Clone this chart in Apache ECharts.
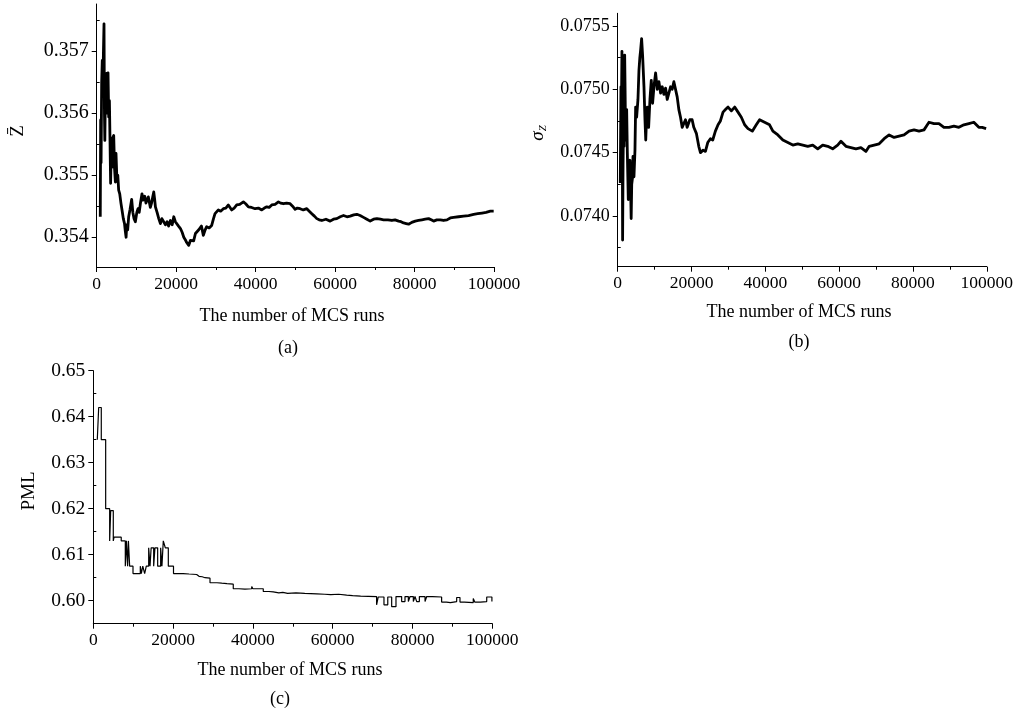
<!DOCTYPE html>
<html>
<head>
<meta charset="utf-8">
<script src="https://cdn.jsdelivr.net/npm/echarts@6/dist/echarts.min.js"></script>
<style>
html,body{margin:0;padding:0;background:#fff;}
#chart{width:1016px;height:709px;}
</style>
</head>
<body>
<div id="chart"></div>
<script>
// ---------- DATA ----------
// Panel (a): mean of Z vs number of MCS runs
const meanZ = [
[900,0.35433],[1000,0.35589],[1100,0.35520],[1250,0.35650],[1400,0.35685],[1550,0.35640],[1700,0.35700],[1840,0.35744],[1950,0.35600],[2050,0.35556],[2200,0.35640],[2350,0.35610],[2500,0.35664],[2650,0.35600],[2850,0.35665],[3020,0.35594],[3200,0.35620],[3350,0.35556],[3500,0.35487],[3650,0.35540],[3860,0.35513],[4000,0.35560],[4280,0.35564],[4500,0.35510],[4700,0.35489],[4860,0.35535],[5100,0.35490],[5300,0.35500],[5530,0.35476],[5800,0.35470],[6100,0.35455],[6370,0.35444],[6700,0.35430],[7000,0.35422],[7200,0.35410],[7400,0.35400],[7550,0.35420],[7800,0.35412],[8050,0.35433],[8400,0.35445],[8800,0.35461],[9100,0.35440],[9400,0.35430],[9730,0.35425],[10100,0.35440],[10400,0.35446],[10700,0.35440],[10990,0.35454],[11400,0.35470],[11700,0.35460],[12100,0.35466],[12400,0.35455],[12700,0.35454],[13000,0.35465],[13270,0.35462],[13500,0.35448],[13770,0.35454],[14100,0.35465],[14360,0.35473],[14600,0.35460],[14780,0.35449],[15200,0.35440],[15620,0.35430],[16040,0.35422],[16400,0.35430],[16880,0.35430],[17300,0.35420],[17720,0.35425],[18100,0.35418],[18560,0.35427],[19000,0.35420],[19400,0.35433],[19800,0.35425],[20240,0.35422],[20600,0.35418],[21080,0.35414],[21500,0.35408],[21920,0.35400],[22300,0.35396],[22590,0.35392],[22900,0.35390],[23170,0.35387],[23600,0.35395],[24000,0.35398],[24400,0.35394],[24850,0.35406],[25300,0.35408],[25690,0.35412],[26000,0.35411],[26360,0.35418],[26840,0.35403],[27300,0.35412],[27680,0.35417],[28300,0.35415],[28940,0.35419],[29400,0.35430],[29780,0.35438],[30620,0.35444],[31200,0.35442],[31880,0.35446],[32500,0.35447],[33140,0.35452],[33980,0.35444],[34600,0.35447],[35240,0.35452],[36000,0.35453],[36920,0.35457],[37500,0.35454],[38180,0.35449],[39000,0.35448],[39860,0.35446],[40700,0.35447],[41540,0.35444],[42200,0.35447],[42800,0.35449],[43400,0.35448],[44060,0.35452],[44900,0.35453],[45740,0.35457],[46300,0.35455],[47000,0.35454],[47800,0.35455],[48680,0.35454],[49300,0.35450],[49940,0.35445],[50500,0.35447],[51200,0.35446],[52000,0.35444],[52880,0.35446],[53500,0.35442],[54140,0.35438],[54800,0.35434],[55400,0.35430],[56000,0.35428],[56660,0.35427],[57700,0.35429],[58760,0.35426],[59600,0.35429],[60440,0.35430],[61300,0.35433],[62120,0.35435],[63000,0.35433],[63800,0.35434],[64700,0.35436],[65480,0.35437],[66300,0.35435],[67160,0.35432],[68000,0.35429],[68840,0.35426],[69700,0.35429],[70520,0.35430],[71400,0.35429],[72200,0.35428],[73300,0.35428],[74300,0.35427],[75100,0.35428],[75980,0.35426],[76600,0.35425],[77240,0.35423],[77900,0.35422],[78500,0.35421],[79300,0.35424],[80180,0.35426],[81000,0.35427],[81860,0.35428],[82700,0.35429],[83540,0.35430],[84200,0.35428],[84800,0.35426],[85600,0.35428],[86480,0.35428],[87300,0.35427],[88160,0.35428],[89000,0.35431],[89840,0.35432],[91100,0.35433],[92360,0.35434],[93600,0.35435],[94880,0.35437],[95900,0.35438],[96980,0.35439],[98000,0.35440],[99080,0.35442],[99920,0.35442]
];

// Panel (b): standard deviation of Z
const sigmaZ = [
[700,0.07426],[880,0.07502],[1000,0.07480],[1150,0.07530],[1250,0.07460],[1330,0.07381],[1450,0.07440],[1600,0.07480],[1750,0.07455],[1890,0.07527],[2000,0.07500],[2150,0.07460],[2300,0.07470],[2430,0.07484],[2610,0.07450],[2870,0.07413],[3050,0.07440],[3330,0.07444],[3510,0.07420],[3650,0.07398],[3800,0.07425],[4000,0.07430],[4140,0.07447],[4410,0.07431],[4680,0.07452],[4860,0.07486],[5130,0.07478],[5490,0.07492],[5760,0.07515],[6000,0.07525],[6210,0.07531],[6480,0.07540],[6760,0.07526],[7120,0.07502],[7390,0.07476],[7600,0.07460],[7750,0.07472],[8020,0.07486],[8380,0.07470],[8740,0.07492],[9100,0.07507],[9460,0.07489],[9820,0.07502],[10270,0.07513],[10720,0.07500],[11170,0.07506],[11620,0.07497],[12070,0.07502],[12520,0.07496],[12970,0.07501],[13420,0.07492],[13870,0.07497],[14320,0.07502],[14770,0.07500],[15220,0.07506],[15670,0.07507],[16120,0.07494],[16570,0.07484],[17020,0.07478],[17470,0.07470],[17920,0.07473],[18370,0.07476],[18820,0.07470],[19540,0.07476],[20170,0.07476],[20620,0.07470],[21340,0.07465],[21970,0.07455],[22420,0.07450],[23140,0.07452],[23770,0.07451],[24400,0.07458],[25120,0.07461],[25750,0.07460],[26470,0.07467],[27190,0.07472],[27820,0.07475],[28540,0.07482],[29200,0.07484],[29900,0.07486],[30800,0.07483],[31700,0.07486],[32600,0.07482],[33500,0.07478],[34400,0.07472],[35300,0.07469],[36470,0.07467],[37550,0.07472],[38450,0.07476],[39800,0.07474],[41150,0.07472],[42050,0.07467],[43400,0.07464],[44750,0.07460],[46100,0.07458],[47450,0.07456],[48800,0.07457],[50150,0.07456],[51500,0.07455],[52850,0.07456],[54200,0.07453],[55550,0.07456],[56900,0.07455],[58250,0.07453],[59600,0.07456],[60500,0.07459],[61850,0.07455],[63200,0.07454],[64550,0.07453],[65900,0.07454],[67250,0.07451],[68150,0.07455],[69500,0.07456],[70850,0.07457],[72200,0.07461],[73550,0.07464],[74900,0.07462],[76250,0.07463],[77600,0.07464],[78950,0.07467],[80300,0.07468],[81650,0.07467],[83000,0.07468],[83900,0.07472],[84350,0.07474],[85700,0.07473],[87050,0.07473],[88400,0.07470],[89750,0.07470],[91100,0.07471],[92450,0.07470],[93800,0.07472],[95150,0.07473],[96500,0.07474],[97850,0.07470],[98750,0.07470],[99830,0.07469]
];

// Panel (c): PML (step curve; each value holds until the next point)
const pml = [
[1000,0.635],[1350,0.642],[2000,0.635],[3100,0.620],[4100,0.613],[4360,0.6196],[5010,0.613],[5200,0.6138],[7000,0.613],[8020,0.6075],[8300,0.613],[8600,0.6075],[8800,0.613],[9110,0.6075],[9950,0.6059],[11780,0.6075],[12030,0.6059],[12400,0.6075],[12870,0.6059],[13280,0.6075],[13880,0.6115],[14210,0.6075],[14500,0.6115],[15130,0.6075],[15450,0.6115],[16130,0.6075],[16880,0.6115],[17200,0.6075],[17540,0.613],[17880,0.6120],[18050,0.6115],[18800,0.6075],[20100,0.6059],[22500,0.6058],[24000,0.6057],[25900,0.6053],[26500,0.6052],[27300,0.6050],[28000,0.6049],[29250,0.6039],[31000,0.6038],[32200,0.6034],[32500,0.6037],[33500,0.6036],[35080,0.6026],[36500,0.6025],[38000,0.6026],[39700,0.6031],[40000,0.6026],[42600,0.6020],[44000,0.6019],[45100,0.6017],[46500,0.6018],[47500,0.6016],[48700,0.6017],[50800,0.6019],[51300,0.6016],[53000,0.6015],[56000,0.6014],[58000,0.6013],[59500,0.6014],[61500,0.6012],[63500,0.6011],[65000,0.6010],[67000,0.6009],[71000,0.5991],[71400,0.6008],[72850,0.5991],[73800,0.6008],[74780,0.5987],[75860,0.6009],[77280,0.5998],[78120,0.6009],[78960,0.5998],[79380,0.6009],[80210,0.5998],[80630,0.6009],[81050,0.5998],[81720,0.6009],[83140,0.5998],[83560,0.6009],[85000,0.6008],[87300,0.5997],[88500,0.5996],[89500,0.5998],[91070,0.6007],[91900,0.5997],[93000,0.5996],[95230,0.6005],[95600,0.5997],[97000,0.5998],[98600,0.6008],[99900,0.5998],[100000,0.5998]
];

// Tick labels
const xTicks = [0, 20000, 40000, 60000, 80000, 100000];
const yTicksA = [0.354, 0.355, 0.356, 0.357];
const yMinorA = [0.3545, 0.3555, 0.3565, 0.3575];
const yTicksB = [0.0740, 0.0745, 0.0750, 0.0755];
const yMinorB = [0.07375, 0.07425, 0.07475, 0.07525];
const yTicksC = [0.60, 0.61, 0.62, 0.63, 0.64, 0.65];
const yMinorC = [0.605, 0.615, 0.625, 0.635, 0.645];

const xTitle = 'The number of MCS runs';
const captions = ['(a)', '(b)', '(c)'];

// ---------- CHART ----------
const FONT = "'Liberation Serif','Times New Roman',serif";
const FS = 18;
const chart = echarts.init(document.getElementById('chart'), null, {renderer: 'canvas'});

const grids = [
  {left: 96.7, top: 4, width: 397.3, height: 263},
  {left: 617.7, top: 13.3, width: 370, height: 253.4},
  {left: 93.3, top: 370.7, width: 399, height: 253}
];
const yRanges = [[0.35352, 0.35776], [0.07360, 0.07560], [0.595, 0.65]];
const yMajor = [yTicksA, yTicksB, yTicksC];
const yMinor = [yMinorA, yMinorB, yMinorC];
const yDigits = [3, 4, 2];
const yFont = [20, 18, 19.5];
const xFont = 17.5;

const lineStyleAxis = {color: '#000', width: 1};

const xAxes = [], yAxes = [];
grids.forEach((g, i) => {
  xAxes.push({
    type: 'value', gridIndex: i, min: 0, max: 100000, interval: 20000,
    axisLine: {show: true, onZero: false, lineStyle: lineStyleAxis},
    axisTick: {show: true, length: 5, lineStyle: lineStyleAxis, customValues: xTicks},
    minorTick: {show: true, splitNumber: 2, length: 3, lineStyle: lineStyleAxis},
    axisLabel: {customValues: xTicks, color: '#000', fontFamily: FONT, fontSize: xFont, margin: 8,
      formatter: v => String(Math.round(v))},
    splitLine: {show: false}, minorSplitLine: {show: false}
  });
  const dg = yDigits[i];
  yAxes.push({
    type: 'value', gridIndex: i, min: yRanges[i][0], max: yRanges[i][1],
    axisLine: {show: true, onZero: false, lineStyle: lineStyleAxis},
    axisTick: {show: true, length: 5, lineStyle: lineStyleAxis, customValues: yMajor[i]},
    axisLabel: {customValues: yMajor[i], color: '#000', fontFamily: FONT, fontSize: yFont[i], margin: 8,
      formatter: v => v.toFixed(dg)},
    splitLine: {show: false}
  });
  yAxes.push({
    type: 'value', gridIndex: i, min: yRanges[i][0], max: yRanges[i][1],
    axisLine: {show: false},
    axisTick: {show: true, length: 3, lineStyle: lineStyleAxis, customValues: yMinor[i]},
    axisLabel: {show: false},
    splitLine: {show: false}
  });
});

const graphics = [];
function txt(x, y, text) {
  graphics.push({
    type: 'text', x: x, y: y, silent: true,
    style: {text: text, font: FS + 'px ' + FONT, fill: '#000', align: 'center', verticalAlign: 'middle'}
  });
}
// x titles
txt(292, 316, xTitle);
txt(799, 312, xTitle);
txt(290, 670, xTitle);
// captions
txt(288, 348, captions[0]);
txt(799, 342, captions[1]);
txt(280, 699, captions[2]);
// y titles
graphics.push({type: 'text', x: 18, y: 131, rotation: Math.PI / 2, silent: true,
  style: {text: 'Z\u0304', font: '19px ' + FONT, fill: '#000', align: 'center', verticalAlign: 'middle'}});
graphics.push({type: 'text', x: 538, y: 133, rotation: Math.PI / 2, silent: true,
  style: {text: '{s|σ}{z|Z}', align: 'center', verticalAlign: 'middle',
    rich: {
      s: {fontFamily: FONT, fontSize: 19, fontStyle: 'italic', fill: '#000', lineHeight: 22, verticalAlign: 'middle'},
      z: {fontFamily: FONT, fontSize: 11, fontStyle: 'italic', fill: '#000', lineHeight: 22, verticalAlign: 'bottom'}
    }}});
graphics.push({type: 'text', x: 29, y: 491, rotation: Math.PI / 2, silent: true,
  style: {text: 'PML', font: '19px ' + FONT, fill: '#000', align: 'center', verticalAlign: 'middle'}});

const option = {
  animation: false,
  backgroundColor: '#fff',
  grid: grids.map(g => Object.assign({containLabel: false, show: false}, g)),
  xAxis: xAxes,
  yAxis: yAxes,
  series: [
    {type: 'line', xAxisIndex: 0, yAxisIndex: 0, data: meanZ, showSymbol: false, symbol: 'none',
      lineStyle: {color: '#000', width: 2.8, join: 'round'}, clip: true},
    {type: 'line', xAxisIndex: 1, yAxisIndex: 2, data: sigmaZ, showSymbol: false, symbol: 'none',
      lineStyle: {color: '#000', width: 2.8, join: 'round'}, clip: true},
    {type: 'line', xAxisIndex: 2, yAxisIndex: 4, data: pml, step: 'end', showSymbol: false, symbol: 'none',
      lineStyle: {color: '#000', width: 1.2}, clip: true}
  ],
  graphic: graphics
};
chart.setOption(option);
</script>
</body>
</html>
